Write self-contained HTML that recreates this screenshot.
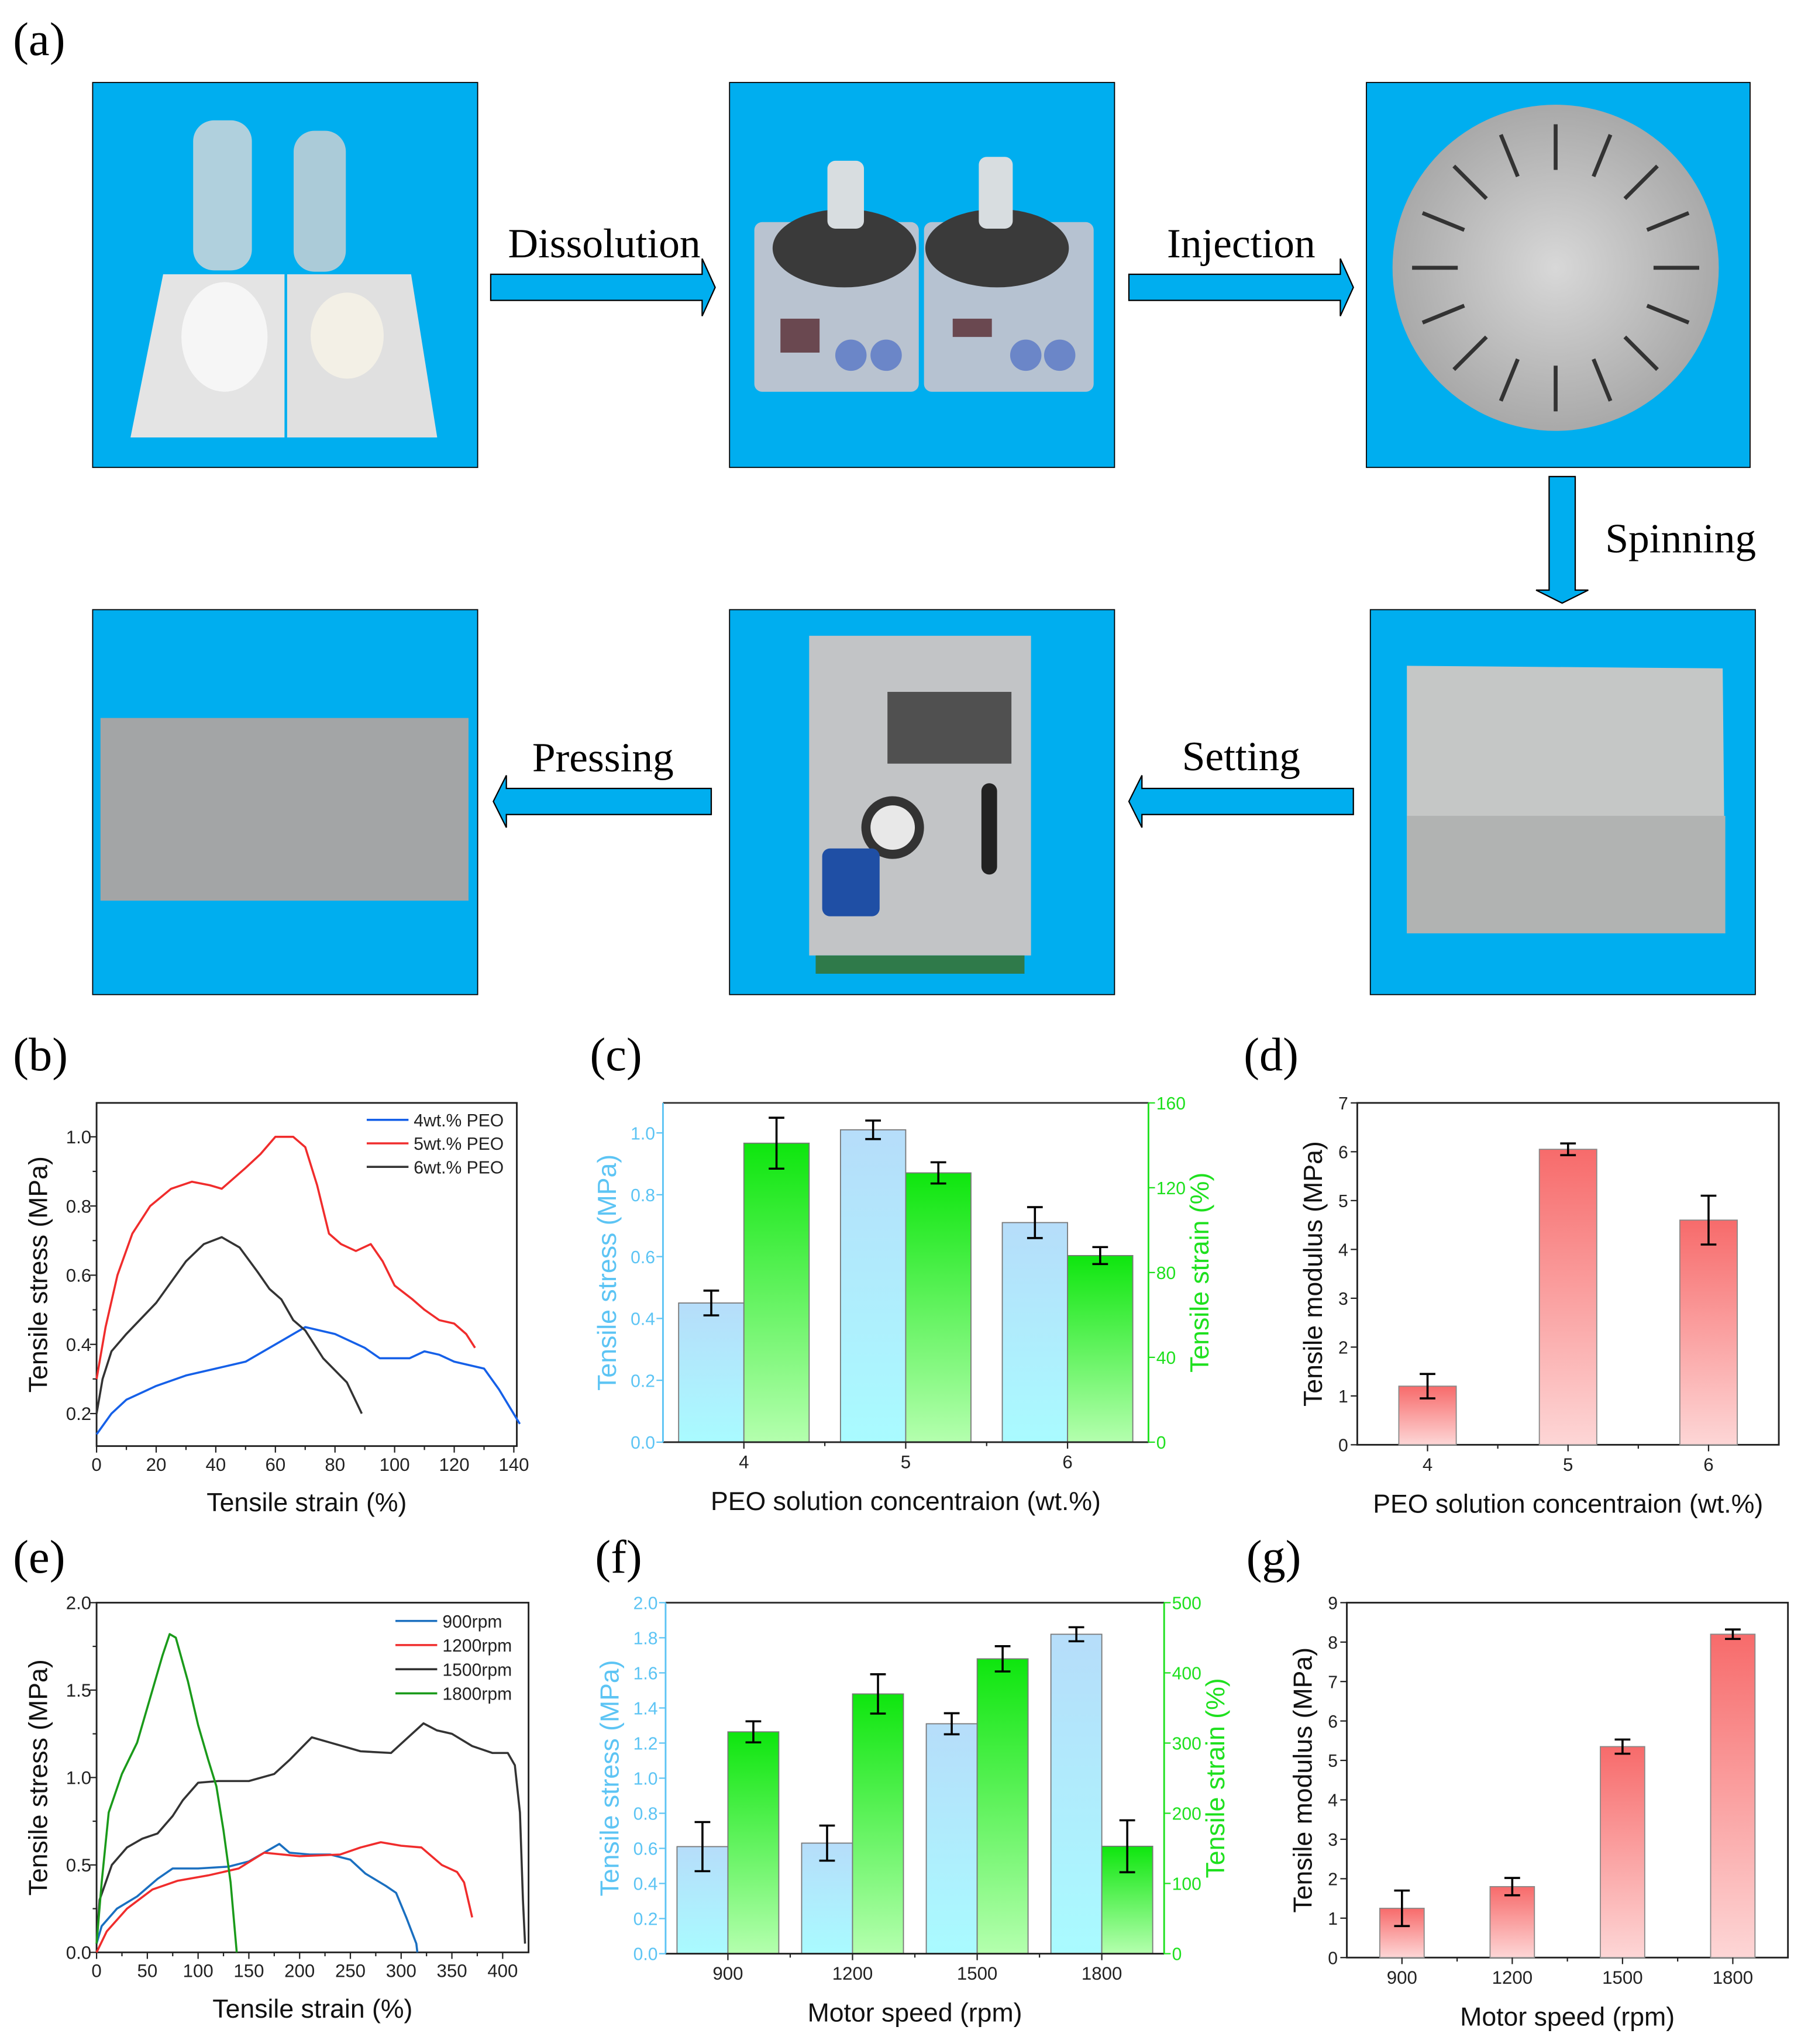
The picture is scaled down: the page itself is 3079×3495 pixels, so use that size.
<!DOCTYPE html>
<html><head><meta charset="utf-8"><style>
html,body{margin:0;padding:0;background:#fff;}
svg{display:block;}
text{font-family:"Liberation Sans",sans-serif;}
.serif{font-family:"Liberation Serif",serif;}
</style></head><body>
<svg id="fig" xmlns="http://www.w3.org/2000/svg" width="3079" height="3495" viewBox="0 0 1380 1566">
<defs>
<linearGradient id="gBlue" x1="0" y1="0" x2="0" y2="1"><stop offset="0" stop-color="#b6ddfa"/><stop offset="1" stop-color="#a9fbff"/></linearGradient>
<linearGradient id="gGreen" x1="0" y1="0" x2="0" y2="1"><stop offset="0" stop-color="#0ee60e"/><stop offset="1" stop-color="#b4ffae"/></linearGradient>
<linearGradient id="gRed" x1="0" y1="0" x2="0" y2="1"><stop offset="0" stop-color="#f76b6b"/><stop offset="1" stop-color="#fdd6d6"/></linearGradient>
<radialGradient id="gDisc" cx="0.5" cy="0.5" r="0.5"><stop offset="0" stop-color="#d8d8d8"/><stop offset="1" stop-color="#a9a9a9"/></radialGradient>
</defs>

<!-- Panel (a) -->
<g>
<text class="serif" x="10" y="42" font-size="36">(a)</text>

<g>
<rect x="71" y="63" width="295" height="295" fill="#00aeef" stroke="#000" stroke-width="0.8"/>
<rect x="148" y="92" width="45" height="115" rx="16" fill="#cfd6d9" opacity="0.85"/>
<rect x="225" y="100" width="40" height="108" rx="16" fill="#c9d0d3" opacity="0.85"/>
<polygon points="125,210 218,210 218,335 100,335" fill="#e4e4e4"/>
<polygon points="220,210 315,210 335,335 220,335" fill="#e0e0e0"/>
<ellipse cx="172" cy="258" rx="33" ry="42" fill="#f6f6f6"/>
<ellipse cx="266" cy="257" rx="28" ry="33" fill="#f3f0e6"/>
</g>

<g>
<rect x="559" y="63" width="295" height="295" fill="#00aeef" stroke="#000" stroke-width="0.8"/>
<rect x="578" y="170" width="126" height="130" rx="6" fill="#b9c3d0"/>
<rect x="708" y="170" width="130" height="130" rx="6" fill="#b6c2d1"/>
<ellipse cx="647" cy="190" rx="55" ry="30" fill="#3a3a3a"/>
<ellipse cx="764" cy="190" rx="55" ry="30" fill="#3a3a3a"/>
<rect x="634" y="123" width="28" height="52" rx="6" fill="#d8dde0"/>
<rect x="750" y="120" width="26" height="55" rx="6" fill="#d8dde0"/>
<rect x="598" y="244" width="30" height="26" fill="#6a4850"/>
<rect x="730" y="244" width="30" height="14" fill="#6a4850"/>
<circle cx="652" cy="272" r="12" fill="#6b86c8"/><circle cx="679" cy="272" r="12" fill="#6b86c8"/>
<circle cx="786" cy="272" r="12" fill="#6b86c8"/><circle cx="812" cy="272" r="12" fill="#6b86c8"/>
</g>

<g>
<rect x="1047" y="63" width="294" height="295" fill="#00aeef" stroke="#000" stroke-width="0.8"/>
<circle cx="1192" cy="205" r="125" fill="url(#gDisc)"/>
<g stroke="#333" stroke-width="3">
<line x1="1192" y1="95" x2="1192" y2="130"/><line x1="1192" y1="280" x2="1192" y2="315"/>
<line x1="1082" y1="205" x2="1117" y2="205"/><line x1="1267" y1="205" x2="1302" y2="205"/>
<line x1="1114" y1="127" x2="1139" y2="152"/><line x1="1245" y1="258" x2="1270" y2="283"/>
<line x1="1270" y1="127" x2="1245" y2="152"/><line x1="1139" y1="258" x2="1114" y2="283"/>
<line x1="1150" y1="103" x2="1163" y2="135"/><line x1="1221" y1="275" x2="1234" y2="307"/>
<line x1="1234" y1="103" x2="1221" y2="135"/><line x1="1163" y1="275" x2="1150" y2="307"/>
<line x1="1090" y1="163" x2="1122" y2="176"/><line x1="1262" y1="234" x2="1294" y2="247"/>
<line x1="1294" y1="163" x2="1262" y2="176"/><line x1="1122" y1="234" x2="1090" y2="247"/>
</g>
</g>

<g>
<rect x="1050" y="467" width="295" height="295" fill="#00aeef" stroke="#000" stroke-width="0.8"/>
<polygon points="1078,510 1320,512 1322,715 1078,715" fill="#c5c7c6"/>
<rect x="1078" y="625" width="244" height="90" fill="#b1b3b2"/>
</g>

<g>
<rect x="559" y="467" width="295" height="295" fill="#00aeef" stroke="#000" stroke-width="0.8"/>
<rect x="620" y="487" width="170" height="245" fill="#c2c4c6"/>
<rect x="680" y="530" width="95" height="55" fill="#505050"/>
<circle cx="684" cy="634" r="24" fill="#333"/><circle cx="684" cy="634" r="17" fill="#e8e8e8"/>
<rect x="752" y="600" width="12" height="70" rx="6" fill="#222"/>
<rect x="630" y="650" width="44" height="52" rx="6" fill="#1f4fa5"/>
<rect x="625" y="732" width="160" height="14" fill="#2f7a4a"/>
</g>

<g>
<rect x="71" y="467" width="295" height="295" fill="#00aeef" stroke="#000" stroke-width="0.8"/>
<rect x="77" y="550" width="282" height="140" fill="#a3a5a6"/>
</g>

<!-- arrows -->
<g stroke="#000" stroke-width="1" fill="#00aeef">
<polygon points="376,210 538,210 538,198 548,220 538,242 538,230 376,230"/>
<polygon points="865,210 1027,210 1027,198 1037,220 1027,242 1027,230 865,230"/>
<polygon points="1187,365 1207,365 1207,452 1217,452 1197,462 1177,452 1187,452"/>
<polygon points="1037,604 875,604 875,594 865,614 875,634 875,624 1037,624"/>
<polygon points="545,604 388,604 388,594 378,614 388,634 388,624 545,624"/>
</g>
<g class="serif" font-size="32" fill="#000">
<text class="serif" x="463" y="197" text-anchor="middle">Dissolution</text>
<text class="serif" x="951" y="197" text-anchor="middle">Injection</text>
<text class="serif" x="1230" y="423">Spinning</text>
<text class="serif" x="951" y="590" text-anchor="middle">Setting</text>
<text class="serif" x="462" y="591" text-anchor="middle">Pressing</text>
</g>
</g>

<text class="serif" x="10" y="820" font-size="36">(b)</text>
<text class="serif" x="452" y="820" font-size="36">(c)</text>
<text class="serif" x="953" y="820" font-size="36">(d)</text>
<text class="serif" x="10" y="1205" font-size="36">(e)</text>
<text class="serif" x="456" y="1205" font-size="36">(f)</text>
<text class="serif" x="955" y="1205" font-size="36">(g)</text>
<g id="charts"></g>
</svg>

<script>
// ---------- Data: panel (b) ----------
const bStrain4 = [0,5,10,20,30,40,50,60,70,80,90,95,105,110,115,120,130,135,142];
const bStress4 = [0.14,0.2,0.24,0.28,0.31,0.33,0.35,0.4,0.45,0.43,0.39,0.36,0.36,0.38,0.37,0.35,0.33,0.27,0.17];
const bStrain5 = [0,3,7,12,18,25,32,38,42,50,55,60,66,70,74,78,82,87,92,96,100,106,110,115,120,124,127];
const bStress5 = [0.3,0.45,0.6,0.72,0.8,0.85,0.87,0.86,0.85,0.91,0.95,1.0,1.0,0.97,0.86,0.72,0.69,0.67,0.69,0.64,0.57,0.53,0.5,0.47,0.46,0.43,0.39];
const bStrain6 = [0,2,5,10,20,30,36,42,48,54,58,62,66,70,76,84,89];
const bStress6 = [0.2,0.3,0.38,0.43,0.52,0.64,0.69,0.71,0.68,0.61,0.56,0.53,0.47,0.44,0.36,0.29,0.2];
const bLegend = ["4wt.% PEO","5wt.% PEO","6wt.% PEO"];
const bXTicks = [0,20,40,60,80,100,120,140];
const bYTicks = [0.2,0.4,0.6,0.8,1.0];

// ---------- Data: panel (e) ----------
const eStrain900 = [0,5,20,40,60,75,100,130,150,165,180,190,210,230,250,265,285,295,305,315,316];
const eStress900 = [0.05,0.15,0.25,0.32,0.42,0.48,0.48,0.49,0.52,0.57,0.62,0.57,0.56,0.56,0.53,0.45,0.38,0.34,0.2,0.05,0];
const eStrain1200 = [0,10,30,55,80,110,140,165,200,240,260,280,300,320,340,355,362,370];
const eStress1200 = [0,0.12,0.25,0.36,0.41,0.44,0.48,0.57,0.55,0.56,0.6,0.63,0.61,0.6,0.5,0.46,0.4,0.2];
const eStrain1500 = [0,3,15,30,45,60,75,85,100,120,150,175,190,212,230,260,290,305,322,335,350,370,390,405,412,417,420,422];
const eStress1500 = [0.05,0.3,0.5,0.6,0.65,0.68,0.78,0.87,0.97,0.98,0.98,1.02,1.1,1.23,1.2,1.15,1.14,1.22,1.31,1.27,1.25,1.18,1.14,1.14,1.07,0.8,0.3,0.05];
const eStrain1800 = [0,5,12,25,40,55,65,72,78,90,100,110,118,125,132,138];
const eStress1800 = [0.05,0.4,0.8,1.02,1.2,1.5,1.7,1.82,1.8,1.55,1.3,1.1,0.95,0.7,0.4,0.0];
const eLegend = ["900rpm","1200rpm","1500rpm","1800rpm"];
const eXTicks = [0,50,100,150,200,250,300,350,400];
const eYTicks = [0.0,0.5,1.0,1.5,2.0];

// ---------- Data: panel (c) ----------
const cCategories = ["4","5","6"];
const cStress = [0.45,1.01,0.71];
const cStressErr = [0.04,0.03,0.05];
const cStrain = [141,127,88];
const cStrainErr = [12,5,4];
const cLeftTicks = [0.0,0.2,0.4,0.6,0.8,1.0];
const cRightTicks = [0,40,80,120,160];

// ---------- Data: panel (d) ----------
const dCategories = ["4","5","6"];
const dModulus = [1.2,6.05,4.6];
const dModulusErr = [0.25,0.12,0.5];
const dTicks = [0,1,2,3,4,5,6,7];

// ---------- Data: panel (f) ----------
const fCategories = ["900","1200","1500","1800"];
const fStress = [0.61,0.63,1.31,1.82];
const fStressErr = [0.14,0.1,0.06,0.04];
const fStrain = [316,370,420,153];
const fStrainErr = [15,28,18,37];
const fLeftTicks = [0.0,0.2,0.4,0.6,0.8,1.0,1.2,1.4,1.6,1.8,2.0];
const fRightTicks = [0,100,200,300,400,500];

// ---------- Data: panel (g) ----------
const gCategories = ["900","1200","1500","1800"];
const gModulus = [1.25,1.8,5.35,8.2];
const gModulusErr = [0.45,0.22,0.18,0.12];
const gTicks = [0,1,2,3,4,5,6,7,8,9];

const NS = "http://www.w3.org/2000/svg";
const root = document.getElementById('charts');
function mk(tag, attrs, parent, txt){
  const e = document.createElementNS(NS, tag);
  for (const k in attrs) e.setAttribute(k, attrs[k]);
  if (txt !== undefined) e.textContent = txt;
  (parent||root).appendChild(e);
  return e;
}
function lin(d0,d1,r0,r1){ return v => r0 + (v-d0)*(r1-r0)/(d1-d0); }
function fmt(v,dec){ return v.toFixed(dec); }

function lineChart(name, box, xd, yd, xTicks, yTicks, xDec, yDec, series, legend, legendPos, xTitle, yTitle){
  const g = mk('g', {});
  
  
  const X = lin(xd[0], xd[1], box.x0, box.x1);
  const Y = lin(yd[0], yd[1], box.y1, box.y0);
  const frame = mk('rect', {x:box.x0, y:box.y0, width:box.x1-box.x0, height:box.y1-box.y0, fill:'none', stroke:'#222', 'stroke-width':1.3}, g);
  
  
  xTicks.forEach((t,i)=>{
    const x = X(t);
    mk('line',{x1:x,x2:x,y1:box.y1,y2:box.y1+5,stroke:'#222','stroke-width':1},g);
    if (i < xTicks.length-1){ const xm = X(t+(xTicks[1]-xTicks[0])/2); mk('line',{x1:xm,x2:xm,y1:box.y1,y2:box.y1+3,stroke:'#222','stroke-width':1},g); }
    const tl = mk('text',{x:x,y:box.y1+19,'font-size':14,'text-anchor':'middle',fill:'#222'},g,fmt(t,xDec));
    
    
  });
  yTicks.forEach((t,i)=>{
    const y = Y(t);
    mk('line',{x1:box.x0-5,x2:box.x0,y1:y,y2:y,stroke:'#222','stroke-width':1},g);
    const ym = Y(t+(yTicks[1]-yTicks[0])/2);
    if (ym > box.y0) mk('line',{x1:box.x0-3,x2:box.x0,y1:ym,y2:ym,stroke:'#222','stroke-width':1},g);
    const tl = mk('text',{x:box.x0-4,y:y+5,'font-size':14,'text-anchor':'end',fill:'#222'},g,fmt(t,yDec));
    
    
  });
  series.forEach((s,i)=>{
    let d = '';
    s.xs.forEach((v,j)=>{ d += (j?'L':'M') + X(v).toFixed(1) + ',' + Y(s.ys[j]).toFixed(1); });
    const p = mk('path',{d:d,fill:'none',stroke:s.color,'stroke-width':1.6,'stroke-linejoin':'round'},g);
    
    
    const ly = legendPos.y + i*legendPos.dy;
    const ll = mk('line',{x1:legendPos.x,x2:legendPos.x+32,y1:ly,y2:ly,stroke:s.color,'stroke-width':1.6},g);
    
    
    const lt = mk('text',{x:legendPos.x+36,y:ly+5,'font-size':13.5,fill:'#222'},g,legend[i]);
    
    
  });
  const xt = mk('text',{x:(box.x0+box.x1)/2,y:box.y1+50,'font-size':20,'text-anchor':'middle',fill:'#111'},g,xTitle);
  
  
  const yc = (box.y0+box.y1)/2;
  const yt = mk('text',{x:0,y:0,'font-size':20,'text-anchor':'middle',fill:'#111',transform:`translate(${box.x0-38},${yc}) rotate(-90)`},g,yTitle);
  
  
}

function errBar(g, x, y0, y1, w){
  mk('line',{x1:x,x2:x,y1:y0,y2:y1,stroke:'#000','stroke-width':1.6},g);
  mk('line',{x1:x-w,x2:x+w,y1:y0,y2:y0,stroke:'#000','stroke-width':1.6},g);
  mk('line',{x1:x-w,x2:x+w,y1:y1,y2:y1,stroke:'#000','stroke-width':1.6},g);
}

function dualBar(name, box, cats, lMax, rMax, lVals, lErr, rVals, rErr, lTicks, rTicks, lDec, bw, xTitle){
  const g = mk('g', {});
  
  
  const L = lin(0, lMax, box.y1, box.y0);
  const R = lin(0, rMax, box.y1, box.y0);
  const step = (box.x1-box.x0)/cats.length;
  const cx = i => box.x0 + step*(i+0.5);
  cats.forEach((c,i)=>{
    const x = cx(i);
    const b1 = mk('rect',{x:x-bw,y:L(lVals[i]),width:bw,height:box.y1-L(lVals[i]),fill:'url(#gBlue)',stroke:'#777','stroke-width':0.8},g);
    
    
    const b2 = mk('rect',{x:x,y:R(rVals[i]),width:bw,height:box.y1-R(rVals[i]),fill:'url(#gGreen)',stroke:'#777','stroke-width':0.8},g);
    
    
    errBar(g, x-bw/2, L(lVals[i]+lErr[i]), L(lVals[i]-lErr[i]), 6);
    errBar(g, x+bw/2, R(rVals[i]+rErr[i]), R(rVals[i]-rErr[i]), 6);
    const tl = mk('text',{x:x,y:box.y1+20,'font-size':14,'text-anchor':'middle',fill:'#222'},g,c);
    
    
    mk('line',{x1:x,x2:x,y1:box.y1,y2:box.y1+5,stroke:'#222'},g);
    if (i>0) mk('line',{x1:x-step/2,x2:x-step/2,y1:box.y1,y2:box.y1+3,stroke:'#222'},g);
  });
  mk('line',{x1:box.x0,x2:box.x1,y1:box.y0,y2:box.y0,stroke:'#333','stroke-width':1.3},g);
  mk('line',{x1:box.x0,x2:box.x1,y1:box.y1,y2:box.y1,stroke:'#222','stroke-width':1.3},g);
  mk('line',{x1:box.x0,x2:box.x0,y1:box.y0,y2:box.y1,stroke:'#5cc4f4','stroke-width':1.3},g);
  mk('line',{x1:box.x1,x2:box.x1,y1:box.y0,y2:box.y1,stroke:'#1ee01e','stroke-width':1.3},g);
  lTicks.forEach(t=>{
    const y=L(t);
    mk('line',{x1:box.x0-5,x2:box.x0,y1:y,y2:y,stroke:'#5cc4f4'},g);
    const tl = mk('text',{x:box.x0-6,y:y+5,'font-size':13.5,'text-anchor':'end',fill:'#5cc4f4'},g,fmt(t,lDec));
    
    
  });
  rTicks.forEach(t=>{
    const y=R(t);
    mk('line',{x1:box.x1,x2:box.x1+5,y1:y,y2:y,stroke:'#1ee01e'},g);
    const tl = mk('text',{x:box.x1+6,y:y+5,'font-size':13.5,fill:'#1ee01e'},g,String(t));
    
    
  });
  const yc=(box.y0+box.y1)/2;
  const lt = mk('text',{x:0,y:0,'font-size':20,'text-anchor':'middle',fill:'#5cc4f4',transform:`translate(${box.x0-36},${yc}) rotate(-90)`},g,'Tensile stress (MPa)');
  
  
  const rt = mk('text',{x:0,y:0,'font-size':20,'text-anchor':'middle',fill:'#1ee01e',transform:`translate(${box.x1+46},${yc}) rotate(-90)`},g,'Tensile strain (%)');
  
  
  const xt = mk('text',{x:(box.x0+box.x1)/2,y:box.y1+52,'font-size':20,'text-anchor':'middle',fill:'#111'},g,xTitle);
  
  
}

function modBar(name, box, cats, yMax, vals, errs, ticks, bw, xTitle){
  const g = mk('g', {});
  
  
  const Y = lin(0, yMax, box.y1, box.y0);
  const step = (box.x1-box.x0)/cats.length;
  const cx = i => box.x0 + step*(i+0.5);
  mk('rect',{x:box.x0,y:box.y0,width:box.x1-box.x0,height:box.y1-box.y0,fill:'none',stroke:'#222','stroke-width':1.3},g);
  cats.forEach((c,i)=>{
    const x=cx(i);
    const b = mk('rect',{x:x-bw/2,y:Y(vals[i]),width:bw,height:box.y1-Y(vals[i]),fill:'url(#gRed)',stroke:'#888','stroke-width':0.8},g);
    
    
    errBar(g, x, Y(vals[i]+errs[i]), Y(vals[i]-errs[i]), 6);
    mk('line',{x1:x,x2:x,y1:box.y1,y2:box.y1+5,stroke:'#222'},g);
    if (i>0) mk('line',{x1:x-step/2,x2:x-step/2,y1:box.y1,y2:box.y1+3,stroke:'#222'},g);
    const tl = mk('text',{x:x,y:box.y1+20,'font-size':14,'text-anchor':'middle',fill:'#222'},g,c);
    
    
  });
  ticks.forEach(t=>{
    const y=Y(t);
    mk('line',{x1:box.x0-5,x2:box.x0,y1:y,y2:y,stroke:'#222'},g);
    const tl = mk('text',{x:box.x0-7,y:y+5,'font-size':13.5,'text-anchor':'end',fill:'#222'},g,String(t));
    
    
  });
  const yc=(box.y0+box.y1)/2;
  const yt = mk('text',{x:0,y:0,'font-size':20,'text-anchor':'middle',fill:'#111',transform:`translate(${box.x0-27},${yc}) rotate(-90)`},g,'Tensile modulus (MPa)');
  
  
  const xt = mk('text',{x:(box.x0+box.x1)/2,y:box.y1+52,'font-size':20,'text-anchor':'middle',fill:'#111'},g,xTitle);
  
  
}

lineChart('chart-b-stress-strain-peo', {x0:74,x1:396,y0:845,y1:1108}, [0,141], [0.106,1.098],
  bXTicks, bYTicks, 0, 1,
  [{key:'4wt',xs:bStrain4,ys:bStress4,color:'#1560e8'},
   {key:'5wt',xs:bStrain5,ys:bStress5,color:'#f02c2c'},
   {key:'6wt',xs:bStrain6,ys:bStress6,color:'#333'}],
  bLegend, {x:281,y:858,dy:18}, 'Tensile strain (%)', 'Tensile stress (MPa)');

lineChart('chart-e-stress-strain-speed', {x0:74,x1:405,y0:1228,y1:1496}, [0,425.5], [0,2.0],
  eXTicks, eYTicks, 0, 1,
  [{key:'900rpm',xs:eStrain900,ys:eStress900,color:'#1a6fc0'},
   {key:'1200rpm',xs:eStrain1200,ys:eStress1200,color:'#f02c2c'},
   {key:'1500rpm',xs:eStrain1500,ys:eStress1500,color:'#333'},
   {key:'1800rpm',xs:eStrain1800,ys:eStress1800,color:'#1a9a1a'}],
  eLegend, {x:303,y:1242,dy:18.5}, 'Tensile strain (%)', 'Tensile stress (MPa)');

dualBar('chart-c-peo-concentration', {x0:508,x1:880,y0:845,y1:1105}, cCategories, 1.097, 160,
  cStress, cStressErr, cStrain, cStrainErr, cLeftTicks, cRightTicks, 1, 50, 'PEO solution concentraion (wt.%)');

dualBar('chart-f-motor-speed', {x0:510,x1:892,y0:1228,y1:1497}, fCategories, 2.0, 500,
  fStress, fStressErr, fStrain, fStrainErr, fLeftTicks, fRightTicks, 1, 39, 'Motor speed (rpm)');

modBar('chart-d-modulus-peo', {x0:1040,x1:1363,y0:845,y1:1107}, dCategories, 7, dModulus, dModulusErr, dTicks, 44, 'PEO solution concentraion (wt.%)');

modBar('chart-g-modulus-speed', {x0:1032,x1:1370,y0:1228,y1:1500}, gCategories, 9, gModulus, gModulusErr, gTicks, 34, 'Motor speed (rpm)');
</script>
</body></html>
